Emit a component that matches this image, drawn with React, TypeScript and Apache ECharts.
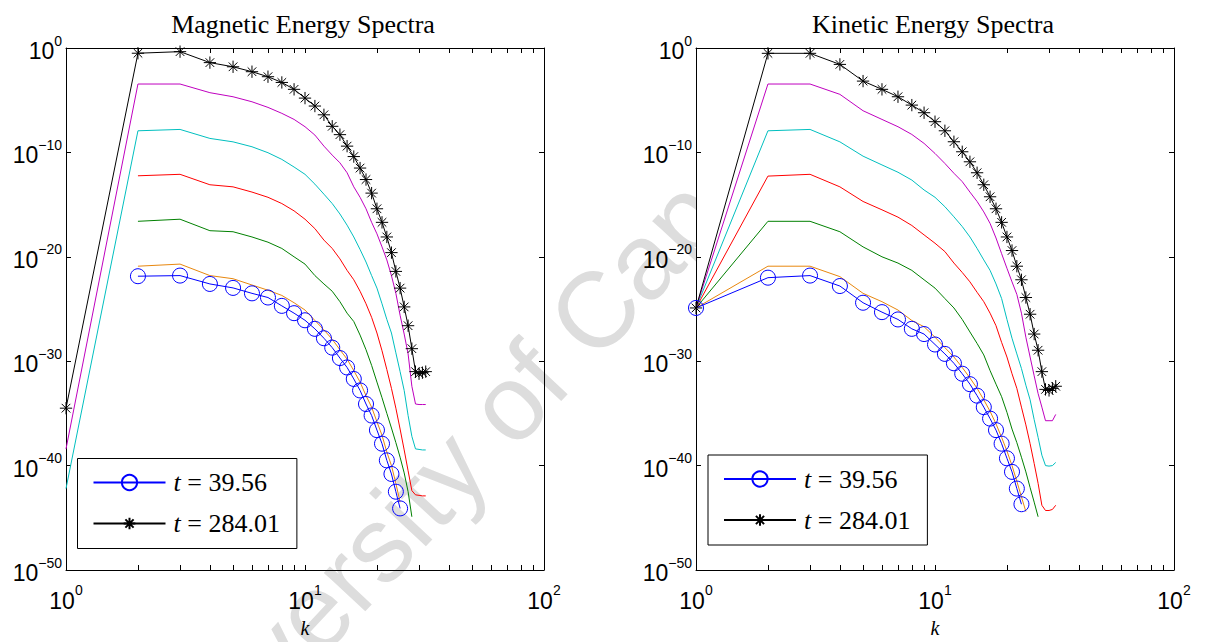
import { useEffect, useRef } from 'react';
import * as echarts from 'echarts';

// ---------- axes / ticks ----------
const K = [1, 2, 3, 4, 5, 6, 7, 8, 9, 10, 11, 12, 13, 14, 15, 16, 17, 18, 19, 20, 21, 22, 23, 24, 25, 26, 27, 28, 29, 30, 31, 32];
const X_TICKS = [1, 2, 3, 4, 5, 6, 7, 8, 9, 10, 20, 30, 40, 50, 60, 70, 80, 90, 100];
const X_LABELS = [1, 10, 100];
const Y_TICKS = [1e-50, 1e-40, 1e-30, 1e-20, 1e-10, 1];
const TITLES = ['Magnetic Energy Spectra', 'Kinetic Energy Spectra'];
const LEGEND_NAMES = ['t = 39.56', 't = 284.01'];
const X_NAME = 'k';
const WATERMARK = 'University of Cape Town';

// ---------- data: log10(E) for k = K[i]; null = not plotted ----------
// Magnetic energy spectra
const magBlue = [null, -21.86, -21.8, -22.6, -22.98, -23.5, -23.9, -24.7, -25.4, -26.08, -26.9, -27.8, -28.7, -29.7, -30.6, -31.7, -32.8, -34.1, -35.2, -36.6, -37.9, -39.5, -40.8, -42.5, -44.1];
const magBlack = [-34.5, -0.5, -0.35, -1.4, -1.8, -2.27, -2.75, -3.3, -3.96, -4.8, -5.56, -6.4, -7.5, -8.3, -9.4, -10.4, -11.5, -12.6, -13.9, -15.4, -16.7, -18.1, -19.6, -21.4, -23.0, -24.8, -26.6, -28.8, -31.0, -31.2, -31.1, -31.0];
const magOrange = [null, -20.9, -20.7, -21.8, -22.1, -22.7, -23.2, -23.7, -24.4, -25.1, -26.1, -27.0, -27.9, -28.9, -29.8, -30.9, -32.0, -33.3, -34.4, -35.8, -37.1, -38.7, -40.0, -41.7, -43.5];
const magGreen = [null, -16.6, -16.4, -17.5, -17.6, -18.1, -18.6, -19.2, -20.0, -20.7, -21.8, -22.6, -23.3, -24.3, -25.4, -26.2, -27.5, -28.9, -30.4, -32.0, -33.5, -35.0, -36.4, -37.8, -39.2, -40.7, -42.5, -44.9];
const magRed = [null, -12.24, -12.1, -13.1, -13.3, -13.8, -14.3, -14.9, -15.6, -16.4, -17.3, -18.4, -19.2, -20.2, -21.3, -22.2, -23.3, -24.5, -25.8, -27.3, -29.0, -30.8, -32.6, -34.5, -36.5, -38.5, -40.5, -42.4, -42.8, -42.85, -42.9, -42.9];
const magCyan = [-42.2, -7.93, -7.8, -8.66, -8.99, -9.46, -10.03, -10.67, -11.4, -12.1, -13.04, -14.0, -14.9, -15.9, -16.97, -18.1, -19.3, -20.5, -21.8, -23.0, -24.5, -26.0, -27.3, -29.2, -31.0, -32.8, -35.2, -37.2, -38.4, -38.45, -38.5, -38.5];
const magMagenta = [-38.4, -3.45, -3.45, -4.28, -4.67, -5.15, -5.69, -6.26, -6.84, -7.54, -8.34, -9.4, -10.26, -11.0, -11.95, -13.3, -14.3, -15.4, -16.7, -17.8, -19.05, -20.3, -21.8, -23.5, -25.6, -27.4, -29.3, -32.4, -34.1, -34.15, -34.15, -34.15];

// Kinetic energy spectra
const kinBlue = [-24.9, -22.0, -21.8, -22.8, -24.4, -25.3, -26.0, -26.9, -27.4, -28.4, -29.3, -30.2, -31.2, -32.2, -33.3, -34.4, -35.5, -36.6, -37.9, -39.3, -40.6, -42.2, -43.7];
const kinBlack = [-24.9, -0.51, -0.51, -1.57, -3.17, -3.96, -4.67, -5.47, -6.2, -7.06, -7.93, -8.98, -9.94, -10.9, -11.95, -13.1, -14.25, -15.4, -16.7, -18.1, -19.4, -20.9, -22.2, -23.9, -25.5, -27.4, -28.95, -31.0, -32.7, -32.8, -32.6, -32.4];
const kinOrange = [-24.9, -20.9, -20.9, -21.9, -23.5, -24.3, -25.1, -26.1, -26.7, -27.7, -28.7, -29.6, -30.6, -31.6, -32.6, -33.7, -34.8, -36.0, -37.3, -38.6, -40.0, -41.5, -43.0, -44.4];
const kinGreen = [-24.9, -16.6, -16.6, -17.6, -19.05, -20.0, -20.6, -21.3, -22.2, -23.0, -24.0, -24.9, -26.0, -27.2, -28.3, -29.4, -30.9, -32.2, -33.4, -34.9, -36.5, -37.8, -39.2, -40.6, -42.1, -43.5, -44.9];
const kinRed = [-24.9, -12.27, -12.1, -13.3, -14.7, -15.5, -16.2, -17.0, -17.9, -18.7, -19.5, -20.6, -21.5, -22.4, -23.4, -24.3, -25.4, -26.6, -28.2, -29.6, -31.2, -32.6, -34.4, -36.1, -37.9, -39.8, -41.7, -43.8, -44.3, -44.3, -44.2, -43.8];
const kinCyan = [-24.9, -7.93, -7.8, -8.99, -10.36, -11.2, -11.9, -12.65, -13.6, -14.3, -15.2, -16.17, -17.1, -18.1, -19.2, -20.3, -21.3, -22.6, -24.0, -26.0, -27.8, -29.3, -30.7, -32.3, -33.7, -35.6, -37.3, -39.0, -40.0, -40.05, -40.0, -39.7];
const kinMagenta = [-24.9, -3.45, -3.45, -4.44, -6.01, -6.84, -7.54, -8.28, -9.14, -10.1, -11.06, -12.0, -12.8, -13.8, -14.7, -15.7, -16.8, -18.2, -19.7, -21.1, -22.4, -23.6, -25.4, -27.7, -29.6, -31.4, -33.1, -34.4, -35.7, -35.7, -35.7, -35.1];

// ---------- style ----------
const SANS = '"Liberation Sans", Arial, Helvetica, sans-serif';
const SERIF = '"Liberation Serif", "Times New Roman", serif';
const C_BLUE = '#0000ff';
const C_BLACK = '#000000';
const C_ORANGE = '#e8870e';
const C_GREEN = '#008000';
const C_RED = '#ff0000';
const C_CYAN = '#00bfbf';
const C_MAGENTA = '#bf00bf';
const STAR = 'path://M0,-10L0,10M-10,0L10,0M-7,-7L7,7M-7,7L7,-7M-13,-13L-13,-13M13,13L13,13';

const GRIDS = [
  { left: 66, top: 48, width: 478, height: 522 },
  { left: 696, top: 48, width: 478, height: 522 },
];

function toPoints(logs: (number | null)[]) {
  const out: number[][] = [];
  logs.forEach((e, i) => {
    if (e !== null && e !== undefined) out.push([K[i], Math.pow(10, e)]);
  });
  return out;
}

function expLabel(v: number) {
  const e = Math.round(Math.log10(v));
  const s = e < 0 ? '\u2212' + String(-e) : String(e);
  return '{b|10}{s|' + s + '}';
}

const RICH = {
  b: { fontSize: 23, fontFamily: SANS, color: '#000', lineHeight: 29, verticalAlign: 'bottom' },
  s: { fontSize: 14, fontFamily: SANS, color: '#000', verticalAlign: 'top' },
};

function xAxes(g: number) {
  const common = {
    type: 'log', logBase: 10, gridIndex: g, min: 1, max: 100, z: 3,
    axisLine: { show: true, onZero: false, lineStyle: { color: '#000', width: 1 } },
    axisTick: { show: true, inside: true, length: 5, customValues: X_TICKS, lineStyle: { color: '#000', width: 1 } },
    splitLine: { show: false },
    minorTick: { show: false },
  };
  return [
    {
      ...common, position: 'bottom',
      axisLabel: { show: true, customValues: X_LABELS, formatter: expLabel, margin: 13, color: '#000', rich: RICH },
      name: X_NAME, nameLocation: 'middle', nameGap: 48,
      nameTextStyle: { fontFamily: SERIF, fontStyle: 'italic', fontSize: 20, color: '#000' },
    },
    { ...common, position: 'top', axisLabel: { show: false } },
  ];
}

function yAxes(g: number) {
  const common = {
    type: 'log', logBase: 10, gridIndex: g, min: 1e-50, max: 1, z: 3,
    axisLine: { show: true, onZero: false, lineStyle: { color: '#000', width: 1 } },
    axisTick: { show: true, inside: true, length: 5, customValues: Y_TICKS, lineStyle: { color: '#000', width: 1 } },
    splitLine: { show: false },
    minorTick: { show: false },
  };
  return [
    { ...common, position: 'left', axisLabel: { show: true, customValues: Y_TICKS, formatter: expLabel, margin: 4, color: '#000', rich: RICH } },
    { ...common, position: 'right', axisLabel: { show: false } },
  ];
}

function plain(name: string, logs: (number | null)[], color: string, g: number) {
  return {
    type: 'line', name, xAxisIndex: g * 2, yAxisIndex: g * 2, data: toPoints(logs),
    symbol: 'none', lineStyle: { color, width: 1 }, itemStyle: { color }, z: 4, silent: true,
  };
}

function circles(name: string, logs: (number | null)[], g: number) {
  return {
    type: 'line', name, xAxisIndex: g * 2, yAxisIndex: g * 2, data: toPoints(logs),
    symbol: 'circle', symbolSize: 15, showSymbol: true,
    lineStyle: { color: C_BLUE, width: 1 },
    itemStyle: { color: 'rgba(0,0,0,0)', borderColor: C_BLUE, borderWidth: 1 },
    z: 5, silent: true,
  };
}

function stars(name: string, logs: (number | null)[], g: number) {
  return {
    type: 'line', name, xAxisIndex: g * 2, yAxisIndex: g * 2, data: toPoints(logs),
    symbol: STAR, symbolSize: 16, showSymbol: true, symbolKeepAspect: true,
    lineStyle: { color: C_BLACK, width: 1 },
    itemStyle: { color: C_BLACK, borderColor: C_BLACK, borderWidth: 1 },
    z: 5, silent: true,
  };
}

function legendFor(left: number, top: number) {
  return {
    show: true, orient: 'vertical', left, top, z: 6,
    data: LEGEND_NAMES, selectedMode: false,
    itemWidth: 72, itemHeight: 19, itemGap: 15,
    padding: [11, 17, 12, 15],
    borderColor: '#000', borderWidth: 1, backgroundColor: '#fff', borderRadius: 0,
    formatter: (name: string) => '{i|t}{n|' + name.slice(1) + '}',
    textStyle: {
      color: '#000', fontFamily: SERIF, fontSize: 26, lineHeight: 26,
      rich: {
        i: { fontFamily: SERIF, fontStyle: 'italic', fontSize: 26, color: '#000', padding: [0, 0, 0, 3] },
        n: { fontFamily: SERIF, fontSize: 26, color: '#000' },
      },
    },
  };
}

function buildOption() {
  const wmAngle = (47 * Math.PI) / 180;
  return {
    animation: false,
    backgroundColor: '#ffffff',
    grid: GRIDS.map((g) => ({ ...g, show: false, containLabel: false, outerBoundsMode: 'none' })),
    xAxis: [...xAxes(0), ...xAxes(1)],
    yAxis: [...yAxes(0), ...yAxes(1)],
    legend: [legendFor(77.5, 458.5), legendFor(708, 455)],
    graphic: [
      {
        type: 'text', x: 146.6, y: 791.4, rotation: wmAngle, z: 1, silent: true,
        style: {
          text: WATERMARK, fontSize: 107, fontFamily: SANS, fill: '#dddddd',
          align: 'left', verticalAlign: 'middle', textAlign: 'left', textVerticalAlign: 'middle',
        },
      },
      {
        type: 'rect', z: 2, silent: true,
        shape: { x: GRIDS[1].left, y: 0, width: 1206 - GRIDS[1].left, height: 642 },
        style: { fill: '#ffffff' },
      },
      ...TITLES.map((t, i) => ({
        type: 'text', x: i === 0 ? 303 : 933, y: 24, z: 3, silent: true,
        style: {
          text: t, fontSize: 26, fontFamily: SERIF, fill: '#000',
          align: 'center', verticalAlign: 'middle', textAlign: 'center', textVerticalAlign: 'middle',
        },
      })),
    ],
    series: [
      circles(LEGEND_NAMES[0], magBlue, 0),
      stars(LEGEND_NAMES[1], magBlack, 0),
      plain('mag-orange', magOrange, C_ORANGE, 0),
      plain('mag-green', magGreen, C_GREEN, 0),
      plain('mag-red', magRed, C_RED, 0),
      plain('mag-cyan', magCyan, C_CYAN, 0),
      plain('mag-magenta', magMagenta, C_MAGENTA, 0),
      circles(LEGEND_NAMES[0], kinBlue, 1),
      stars(LEGEND_NAMES[1], kinBlack, 1),
      plain('kin-orange', kinOrange, C_ORANGE, 1),
      plain('kin-green', kinGreen, C_GREEN, 1),
      plain('kin-red', kinRed, C_RED, 1),
      plain('kin-cyan', kinCyan, C_CYAN, 1),
      plain('kin-magenta', kinMagenta, C_MAGENTA, 1),
    ],
  };
}

export default function App() {
  const ref = useRef<HTMLDivElement>(null);
  useEffect(() => {
    if (!ref.current) return;
    const chart = echarts.init(ref.current, null, { renderer: 'svg' });
    chart.setOption(buildOption() as any);
    return () => chart.dispose();
  }, []);
  return (
    <div
      ref={ref}
      style={{ position: 'fixed', left: 0, top: 0, width: 1206, height: 642, background: '#fff' }}
    />
  );
}
